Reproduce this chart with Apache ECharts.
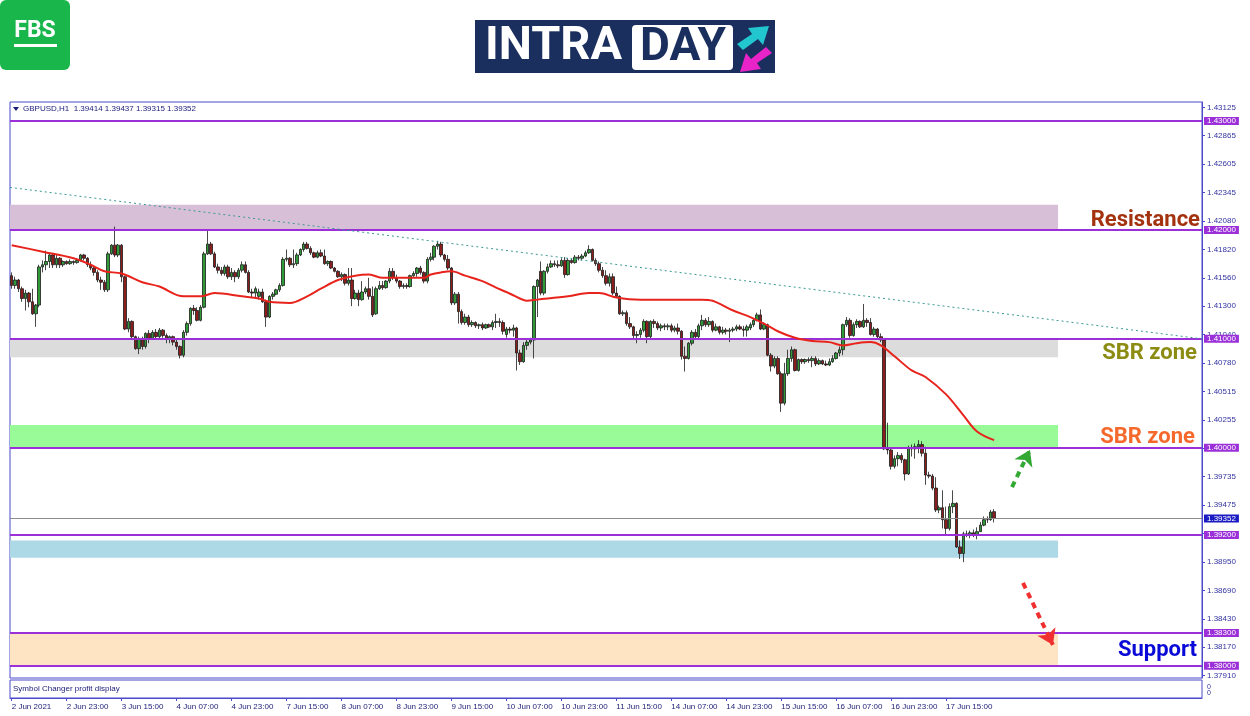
<!DOCTYPE html>
<html><head><meta charset="utf-8">
<script src="https://cdn.jsdelivr.net/npm/echarts@6/dist/echarts.min.js"></script>
<style>html,body{margin:0;padding:0;background:#fff}#c{width:1250px;height:716px}</style>
</head><body><div id="c"></div>
<script>
// ---------------- DATA ----------------
const headerText = 'GBPUSD,H1  1.39414 1.39437 1.39315 1.39352';
const xTickLabels = ['2 Jun 2021','2 Jun 23:00','3 Jun 15:00','4 Jun 07:00','4 Jun 23:00','7 Jun 15:00','8 Jun 07:00','8 Jun 23:00','9 Jun 15:00','10 Jun 07:00','10 Jun 23:00','11 Jun 15:00','14 Jun 07:00','14 Jun 23:00','15 Jun 15:00','16 Jun 07:00','16 Jun 23:00','17 Jun 15:00'];
const priceTicks = [1.37910,1.38170,1.38430,1.38690,1.38950,1.39215,1.39475,1.39735,1.39995,1.40255,1.40515,1.40780,1.41040,1.41300,1.41560,1.41820,1.42080,1.42345,1.42605,1.42865,1.43125];
// [open, close, low, high]
const ohlc = [
[1.4158,1.4149,1.4146,1.4161],[1.4149,1.4154,1.4146,1.4157],[1.4154,1.4146,1.4143,1.4155],[1.4146,1.4137,1.4134,1.4148],
[1.4137,1.4142,1.4126,1.4145],[1.4142,1.4134,1.4129,1.4143],[1.4134,1.4123,1.4122,1.4146],[1.4123,1.4131,1.4111,1.4132],
[1.4131,1.4166,1.4129,1.4168],[1.4166,1.4168,1.4161,1.4172],[1.4168,1.4171,1.4163,1.4181],[1.4171,1.4177,1.4165,1.4178],
[1.4177,1.4168,1.4165,1.4178],[1.4168,1.4174,1.4165,1.4177],[1.4174,1.4168,1.4165,1.4175],[1.4168,1.4171,1.4166,1.4172],
[1.4171,1.4169,1.4168,1.4172],[1.4169,1.4171,1.4168,1.4173],[1.4171,1.4170,1.4168,1.4172],[1.4170,1.4172,1.4169,1.4174],
[1.4172,1.4177,1.4171,1.4178],[1.4177,1.4174,1.4172,1.4178],[1.4174,1.4168,1.4166,1.4175],[1.4168,1.4165,1.4163,1.4171],
[1.4165,1.4161,1.4158,1.4166],[1.4161,1.4154,1.4152,1.4163],[1.4154,1.4152,1.4145,1.4157],[1.4152,1.4145,1.4143,1.4154],
[1.4145,1.4178,1.4143,1.4180],[1.4178,1.4186,1.4177,1.4187],[1.4186,1.4177,1.4175,1.4203],[1.4177,1.4186,1.4175,1.4187],
[1.4186,1.4157,1.4152,1.4187],[1.4157,1.4109,1.4108,1.4158],[1.4109,1.4116,1.4106,1.4119],[1.4116,1.4102,1.4099,1.4117],
[1.4102,1.4091,1.4090,1.4103],[1.4091,1.4100,1.4086,1.4102],[1.4100,1.4093,1.4090,1.4102],[1.4093,1.4105,1.4091,1.4106],
[1.4105,1.4100,1.4096,1.4108],[1.4100,1.4106,1.4099,1.4108],[1.4106,1.4102,1.4100,1.4109],[1.4102,1.4108,1.4100,1.4110],
[1.4108,1.4103,1.4101,1.4109],[1.4103,1.4100,1.4096,1.4105],[1.4100,1.4102,1.4096,1.4103],[1.4102,1.4097,1.4094,1.4103],
[1.4097,1.4093,1.4090,1.4099],[1.4093,1.4085,1.4082,1.4094],[1.4085,1.4106,1.4083,1.4108],[1.4106,1.4114,1.4103,1.4116],
[1.4114,1.4128,1.4112,1.4129],[1.4128,1.4126,1.4122,1.4131],[1.4126,1.4117,1.4116,1.4129],[1.4117,1.4129,1.4116,1.4131],
[1.4129,1.4178,1.4128,1.4180],[1.4178,1.4187,1.4177,1.4199],[1.4187,1.4178,1.4177,1.4189],[1.4178,1.4166,1.4165,1.4180],
[1.4166,1.4163,1.4160,1.4169],[1.4163,1.4160,1.4158,1.4166],[1.4160,1.4166,1.4158,1.4168],[1.4166,1.4157,1.4155,1.4168],
[1.4157,1.4161,1.4154,1.4165],[1.4161,1.4157,1.4152,1.4163],[1.4157,1.4163,1.4155,1.4165],[1.4163,1.4168,1.4161,1.4171],
[1.4168,1.4161,1.4160,1.4171],[1.4161,1.4143,1.4142,1.4163],[1.4143,1.4142,1.4138,1.4146],[1.4142,1.4146,1.4138,1.4148],
[1.4139,1.4143,1.4136,1.4146],[1.4143,1.4134,1.4133,1.4146],[1.4134,1.4120,1.4111,1.4136],[1.4120,1.4139,1.4119,1.4140],
[1.4139,1.4141,1.4136,1.4143],[1.4141,1.4145,1.4140,1.4146],[1.4145,1.4149,1.4143,1.4151],[1.4149,1.4173,1.4148,1.4175],
[1.4173,1.4174,1.4171,1.4182],[1.4174,1.4168,1.4166,1.4175],[1.4168,1.4169,1.4165,1.4182],[1.4169,1.4177,1.4167,1.4179],
[1.4177,1.4182,1.4176,1.4183],[1.4182,1.4187,1.4180,1.4189],[1.4187,1.4183,1.4182,1.4189],[1.4183,1.4179,1.4177,1.4185],
[1.4179,1.4175,1.4174,1.4180],[1.4175,1.4179,1.4174,1.4181],[1.4179,1.4176,1.4175,1.4182],[1.4176,1.4169,1.4168,1.4182],
[1.4169,1.4171,1.4167,1.4172],[1.4171,1.4165,1.4164,1.4172],[1.4165,1.4162,1.4161,1.4166],[1.4162,1.4157,1.4156,1.4163],
[1.4157,1.4159,1.4153,1.4161],[1.4159,1.4151,1.4149,1.4160],[1.4151,1.4154,1.4149,1.4165],[1.4154,1.4137,1.4130,1.4165],
[1.4137,1.4142,1.4136,1.4145],[1.4142,1.4136,1.4130,1.4145],[1.4136,1.4143,1.4135,1.4153],[1.4143,1.4146,1.4141,1.4148],
[1.4146,1.4139,1.4136,1.4156],[1.4139,1.4122,1.4120,1.4148],[1.4123,1.4146,1.4122,1.4148],[1.4146,1.4149,1.4145,1.4153],
[1.4149,1.4147,1.4145,1.4153],[1.4147,1.4153,1.4146,1.4154],[1.4153,1.4162,1.4151,1.4165],[1.4162,1.4156,1.4154,1.4165],
[1.4156,1.4153,1.4151,1.4159],[1.4153,1.4148,1.4146,1.4154],[1.4148,1.4149,1.4146,1.4151],[1.4149,1.4148,1.4146,1.4151],
[1.4148,1.4158,1.4147,1.4159],[1.4158,1.4160,1.4157,1.4162],[1.4160,1.4165,1.4157,1.4166],[1.4165,1.4161,1.4159,1.4167],
[1.4161,1.4153,1.4151,1.4162],[1.4153,1.4173,1.4151,1.4175],[1.4173,1.4175,1.4171,1.4179],[1.4175,1.4185,1.4172,1.4186],
[1.4185,1.4187,1.4182,1.4190],[1.4187,1.4177,1.4175,1.4189],[1.4177,1.4173,1.4171,1.4178],[1.4173,1.4165,1.4163,1.4177],
[1.4165,1.4133,1.4131,1.4166],[1.4133,1.4141,1.4131,1.4143],[1.4141,1.4125,1.4114,1.4143],[1.4125,1.4115,1.4113,1.4127],
[1.4115,1.4120,1.4113,1.4123],[1.4120,1.4113,1.4111,1.4122],[1.4113,1.4115,1.4111,1.4117],[1.4115,1.4112,1.4110,1.4116],
[1.4112,1.4113,1.4109,1.4114],[1.4113,1.4110,1.4108,1.4115],[1.4110,1.4113,1.4109,1.4114],[1.4113,1.4111,1.4110,1.4114],
[1.4111,1.4115,1.4108,1.4117],[1.4115,1.4116,1.4110,1.4123],[1.4116,1.4115,1.4111,1.4119],[1.4115,1.4107,1.4104,1.4117],
[1.4104,1.4109,1.4101,1.4111],[1.4109,1.4108,1.4105,1.4111],[1.4108,1.4110,1.4102,1.4113],[1.4110,1.4087,1.4071,1.4111],
[1.4087,1.4079,1.4076,1.4090],[1.4079,1.4094,1.4078,1.4097],[1.4094,1.4097,1.4090,1.4100],[1.4097,1.4099,1.4095,1.4101],
[1.4099,1.4148,1.4082,1.4149],[1.4148,1.4154,1.4120,1.4155],[1.4162,1.4142,1.4140,1.4171],[1.4142,1.4162,1.4140,1.4163],
[1.4162,1.4166,1.4160,1.4169],[1.4166,1.4169,1.4165,1.4172],[1.4169,1.4168,1.4166,1.4172],[1.4168,1.4167,1.4165,1.4172],
[1.4167,1.4172,1.4166,1.4174],[1.4172,1.4159,1.4156,1.4175],[1.4159,1.4172,1.4158,1.4174],[1.4172,1.4170,1.4169,1.4174],
[1.4170,1.4175,1.4169,1.4177],[1.4175,1.4174,1.4172,1.4177],[1.4174,1.4176,1.4172,1.4178],[1.4176,1.4179,1.4175,1.4181],
[1.4179,1.4182,1.4178,1.4186],[1.4182,1.4172,1.4171,1.4183],[1.4172,1.4169,1.4167,1.4174],[1.4169,1.4163,1.4161,1.4171],
[1.4163,1.4158,1.4156,1.4166],[1.4158,1.4151,1.4149,1.4163],[1.4151,1.4157,1.4148,1.4160],[1.4157,1.4142,1.4140,1.4160],
[1.4142,1.4139,1.4138,1.4148],[1.4139,1.4123,1.4122,1.4140],[1.4123,1.4124,1.4121,1.4126],[1.4124,1.4114,1.4112,1.4126],
[1.4114,1.4111,1.4109,1.4120],[1.4111,1.4103,1.4100,1.4112],[1.4103,1.4104,1.4096,1.4107],[1.4104,1.4108,1.4101,1.4110],
[1.4108,1.4116,1.4106,1.4118],[1.4116,1.4102,1.4096,1.4117],[1.4102,1.4116,1.4100,1.4117],[1.4116,1.4114,1.4110,1.4118],
[1.4114,1.4110,1.4108,1.4116],[1.4110,1.4112,1.4107,1.4114],[1.4112,1.4111,1.4108,1.4114],[1.4111,1.4112,1.4108,1.4114],
[1.4112,1.4108,1.4106,1.4114],[1.4108,1.4110,1.4106,1.4112],[1.4110,1.4107,1.4104,1.4114],[1.4107,1.4084,1.4081,1.4108],
[1.4084,1.4082,1.4070,1.4093],[1.4082,1.4096,1.4081,1.4097],[1.4096,1.4106,1.4094,1.4108],[1.4106,1.4102,1.4100,1.4109],
[1.4102,1.4112,1.4100,1.4114],[1.4112,1.4117,1.4108,1.4122],[1.4117,1.4113,1.4111,1.4119],[1.4113,1.4116,1.4111,1.4120],
[1.4116,1.4108,1.4106,1.4117],[1.4108,1.4111,1.4107,1.4114],[1.4111,1.4106,1.4104,1.4112],[1.4106,1.4108,1.4104,1.4111],
[1.4108,1.4107,1.4104,1.4110],[1.4107,1.4108,1.4097,1.4110],[1.4108,1.4109,1.4106,1.4111],[1.4109,1.4111,1.4107,1.4113],
[1.4111,1.4109,1.4108,1.4113],[1.4109,1.4108,1.4102,1.4112],[1.4108,1.4111,1.4102,1.4113],[1.4110,1.4113,1.4108,1.4115],
[1.4113,1.4117,1.4111,1.4119],[1.4117,1.4122,1.4116,1.4124],[1.4122,1.4109,1.4108,1.4127],[1.4109,1.4113,1.4108,1.4115],
[1.4113,1.4085,1.4084,1.4114],[1.4085,1.4075,1.4070,1.4087],[1.4075,1.4082,1.4073,1.4084],[1.4082,1.4068,1.4067,1.4084],
[1.4068,1.4041,1.4033,1.4070],[1.4041,1.4068,1.4039,1.4078],[1.4068,1.4082,1.4066,1.4090],[1.4082,1.4090,1.4079,1.4093],
[1.4090,1.4071,1.4070,1.4091],[1.4071,1.4081,1.4070,1.4082],[1.4081,1.4079,1.4077,1.4082],[1.4079,1.4081,1.4077,1.4082],
[1.4081,1.4080,1.4078,1.4083],[1.4080,1.4082,1.4074,1.4084],[1.4082,1.4077,1.4075,1.4084],[1.4077,1.4080,1.4076,1.4082],
[1.4080,1.4077,1.4076,1.4081],[1.4077,1.4076,1.4075,1.4080],[1.4076,1.4079,1.4075,1.4082],[1.4079,1.4082,1.4078,1.4085],
[1.4082,1.4087,1.4081,1.4088],[1.4087,1.4090,1.4084,1.4093],[1.4090,1.4113,1.4085,1.4114],[1.4113,1.4117,1.4111,1.4120],
[1.4117,1.4103,1.4101,1.4119],[1.4103,1.4113,1.4102,1.4115],[1.4113,1.4116,1.4110,1.4118],[1.4116,1.4111,1.4110,1.4117],
[1.4111,1.4117,1.4110,1.4132],[1.4117,1.4115,1.4111,1.4119],[1.4115,1.4104,1.4103,1.4119],[1.4104,1.4109,1.4102,1.4111],
[1.4109,1.4102,1.4099,1.4110],[1.4102,1.4099,1.4097,1.4105],[1.4099,1.3999,1.3998,1.4100],[1.3999,1.3998,1.3994,1.4023],
[1.3998,1.3983,1.3980,1.3999],[1.3983,1.3990,1.3981,1.3993],[1.3990,1.3993,1.3983,1.3996],[1.3993,1.3989,1.3986,1.3995],
[1.3989,1.3976,1.3970,1.3990],[1.3976,1.4000,1.3975,1.4002],[1.4000,1.3999,1.3992,1.4003],[1.3999,1.4001,1.3990,1.4004],
[1.4001,1.4003,1.3995,1.4007],[1.4003,1.3995,1.3992,1.4006],[1.3995,1.3975,1.3966,1.4001],[1.3975,1.3974,1.3972,1.3978],
[1.3974,1.3963,1.3961,1.3976],[1.3963,1.3943,1.3941,1.3973],[1.3943,1.3945,1.3940,1.3947],[1.3945,1.3934,1.3926,1.3961],
[1.3934,1.3926,1.3920,1.3946],[1.3926,1.3946,1.3924,1.3949],[1.3946,1.3949,1.3940,1.3961],[1.3949,1.3909,1.3908,1.3950],
[1.3909,1.3903,1.3898,1.3915],[1.3903,1.3921,1.3895,1.3923],[1.3921,1.3920,1.3918,1.3924],[1.3920,1.3922,1.3917,1.3924],
[1.3922,1.3920,1.3918,1.3925],[1.3920,1.3923,1.3916,1.3927],[1.3923,1.3929,1.3923,1.3932],[1.3929,1.3934,1.3928,1.3937],
[1.3934,1.3934,1.3931,1.3937],[1.3934,1.3941,1.3933,1.3943],[1.39414,1.39352,1.39315,1.39437]
];
// moving average [bar index, price]
const maLine = [[0,1.4186],[9,1.4180],[18,1.4174],[23,1.4168],[27,1.4162],[32,1.4160],[38,1.4152],[43,1.4148],[50,1.4139],[55,1.4139],[59,1.4142],[67,1.4139],[72,1.4137],[75,1.4134],[81,1.4133],[86,1.4139],[90,1.4146],[95,1.4154],[100,1.4158],[104,1.4159],[108,1.4156],[115,1.4156],[120,1.4156],[122,1.4159],[125,1.4161],[128,1.4162],[132,1.4158],[137,1.4153],[141,1.4147],[144,1.4143],[146,1.4140],[150,1.4135],[153,1.4136],[162,1.4139],[168,1.4142],[171,1.4142],[176,1.4138],[183,1.4136],[195,1.4136],[201,1.4136],[204,1.4135],[210,1.4126],[215,1.4120],[219,1.4114],[223,1.4107],[228,1.4101],[233,1.4098],[238,1.4097],[242,1.4094],[246,1.4096],[250,1.4097],[253,1.4094],[257,1.4084],[262,1.4071],[266,1.4065],[272,1.4049],[277,1.4030],[281,1.4015],[286,1.4007]];
const trendLine = [[-0.5,1.4239],[346.5,1.4100]];
const levels = [1.43000,1.42000,1.41000,1.40000,1.39200,1.38300,1.38000];
const lastPrice = 1.39352;
const zones = [[1.4200,1.4223],[1.4083,1.4100],[1.4000,1.4021],[1.3899,1.3915],[1.3800,1.3830]];
const zoneEndBar = 304.6;
const upArrow = [[291.2,1.3964],[296.4,1.3998]];
const downArrow = [[294.4,1.3876],[303.1,1.3819]];
const annotations = ['Resistance','SBR zone','SBR zone','Support'];
const totalSlots = 347;

// ---------------- CHART ----------------
const categories = Array.from({length: totalSlots}, (_, i) => String(i));
const zoneColors = ['#d8bfd8','#dcdcdc','#98fb98','#add8e6','#ffe4c4'];
const frame = '#4a4acb';
const purple = '#9b30d9';
const lblFont = 'Liberation Sans';
const showTick = (idx) => idx % 16 === 0 && idx / 16 < xTickLabels.length;

const chart = echarts.init(document.getElementById('c'), null, {renderer: 'canvas'});
chart.setOption({
  animation: false,
  backgroundColor: '#ffffff',
  grid: [
    {left: 10, top: 102, width: 1192, height: 576, show: true, borderColor: frame, borderWidth: 1, backgroundColor: 'transparent'},
    {left: 10, top: 680, width: 1192, height: 18, show: true, borderColor: frame, borderWidth: 1, backgroundColor: 'transparent'}
  ],
  xAxis: [
    {type: 'category', gridIndex: 0, data: categories, boundaryGap: true, show: false},
    {type: 'value', gridIndex: 0, min: -0.5, max: totalSlots - 0.5, show: false},
    {type: 'category', gridIndex: 1, data: categories, boundaryGap: true, position: 'bottom',
      axisLine: {show: true, lineStyle: {color: frame, width: 1}},
      axisTick: {show: true, alignWithLabel: true, interval: showTick, length: 3, lineStyle: {color: frame}},
      axisLabel: {show: true, interval: showTick, align: 'left', margin: 5, fontSize: 8, fontFamily: lblFont, color: '#22227a',
        formatter: (v, idx) => (idx % 16 === 0 && xTickLabels[idx / 16]) ? xTickLabels[idx / 16] : ''},
      splitLine: {show: false}}
  ],
  yAxis: [
    {type: 'value', gridIndex: 0, position: 'right', min: 1.37887, max: 1.43174,
      axisLine: {show: true, onZero: false, lineStyle: {color: frame}},
      axisTick: {show: true, inside: false, length: 3, customValues: priceTicks, lineStyle: {color: frame}},
      axisLabel: {show: true, inside: false, customValues: priceTicks, margin: 5, fontSize: 8, fontFamily: lblFont, color: '#3333a0',
        formatter: v => v.toFixed(5)},
      splitLine: {show: false}},
    {type: 'value', gridIndex: 1, min: 0, max: 1, show: false}
  ],
  series: [
    {name: 'zones', type: 'line', xAxisIndex: 1, yAxisIndex: 0, data: [], z: 1, silent: true,
      markArea: {silent: true, data: zones.map((zn, k) => [
        {coord: [-0.5, zn[1]], itemStyle: {color: zoneColors[k], opacity: 1}},
        {coord: [zoneEndBar, zn[0]]}
      ])}},
    {name: 'GBPUSD', type: 'candlestick', xAxisIndex: 0, yAxisIndex: 0, data: ohlc, z: 3,
      barWidth: 3,
      itemStyle: {color: '#2f9a37', color0: '#8c1d1d', borderColor: '#1c1c1c', borderColor0: '#1c1c1c', borderWidth: 0.8}},
    {name: 'levels', type: 'line', xAxisIndex: 1, yAxisIndex: 0, data: [], z: 4, silent: true,
      markLine: {silent: true, precision: 5, symbol: ['none', 'none'],
        lineStyle: {color: purple, width: 2, type: 'solid'},
        label: {show: true, position: 'end', distance: 2, formatter: p => Number(p.value).toFixed(5),
          color: '#ffffff', backgroundColor: purple, fontSize: 8, fontFamily: lblFont, padding: [0, 3], lineHeight: 8},
        data: levels.map(v => ({yAxis: v})).concat([{yAxis: lastPrice, lineStyle: {color: '#8c8c8c', width: 1, type: 'solid'},
          label: {backgroundColor: '#1b1bc4', color: '#ffffff'}}])}},
    {name: 'MA', type: 'line', xAxisIndex: 1, yAxisIndex: 0, data: maLine, z: 5, smooth: 0.35,
      showSymbol: false, lineStyle: {color: '#e8231c', width: 2}},
    {name: 'trend', type: 'line', xAxisIndex: 1, yAxisIndex: 0, data: trendLine, z: 5,
      showSymbol: false, lineStyle: {color: '#3a9a96', width: 1, type: [2, 3]}},
    {name: 'arrows', type: 'line', xAxisIndex: 1, yAxisIndex: 0, data: [], z: 6, silent: true,
      markLine: {silent: true, precision: 5, symbol: ['none', 'arrow'], symbolSize: 15, label: {show: false},
        data: [
          [{coord: upArrow[0], lineStyle: {color: '#33a833', width: 4, type: [6, 5]}, itemStyle: {color: '#33a833'}}, {coord: upArrow[1], itemStyle: {color: '#33a833'}}],
          [{coord: downArrow[0], lineStyle: {color: '#f03030', width: 4, type: [6, 5]}, itemStyle: {color: '#f03030'}}, {coord: downArrow[1], itemStyle: {color: '#f03030'}}]
        ]}}
  ],
  graphic: [
    // FBS logo
    {type: 'rect', shape: {x: 0, y: 0, width: 70, height: 70, r: 6}, style: {fill: '#19b64b'}, z: 10},
    {type: 'text', x: 35, y: 31, style: {text: 'FBS', fill: '#ffffff', font: 'bold 23px Roboto', textAlign: 'center', textVerticalAlign: 'middle', align: 'center', verticalAlign: 'middle'}, z: 11},
    {type: 'rect', shape: {x: 14, y: 44, width: 43, height: 3}, style: {fill: '#ffffff'}, z: 11},
    // INTRADAY banner
    {type: 'rect', shape: {x: 475, y: 20, width: 300, height: 53}, style: {fill: '#1b2f5e'}, z: 10},
    {type: 'text', x: 485, y: 47, style: {text: 'INTRA', fill: '#ffffff', font: 'bold 47px Roboto', textAlign: 'left', textVerticalAlign: 'middle', align: 'left', verticalAlign: 'middle'}, z: 11},
    {type: 'rect', shape: {x: 632, y: 25, width: 101, height: 45, r: 4}, style: {fill: '#ffffff'}, z: 11},
    {type: 'text', x: 683, y: 48, style: {text: 'DAY', fill: '#1b2f5e', font: 'bold 46px Roboto', textAlign: 'center', textVerticalAlign: 'middle', align: 'center', verticalAlign: 'middle'}, z: 12},
    {type: 'polygon', shape: {points: [[737,44],[752,34],[748,28],[769,26],[763,45],[758,39],[743,50]]}, style: {fill: '#22c6cf'}, z: 11},
    {type: 'polygon', shape: {points: [[772,53],[757,63],[761,69],[740,72],[746,53],[751,59],[766,47]]}, style: {fill: '#e824c8'}, z: 11},
    // header inside chart
    {type: 'polygon', shape: {points: [[13,107],[19,107],[16,111]]}, style: {fill: '#1b1b7a'}, z: 10},
    {type: 'text', x: 23, y: 109, style: {text: headerText, fill: '#1b1b7a', font: '8px "Liberation Sans"', textAlign: 'left', textVerticalAlign: 'middle', align: 'left', verticalAlign: 'middle'}, z: 10},
    {type: 'text', x: 13, y: 689, style: {text: 'Symbol Changer profit display', fill: '#1b1b7a', font: '8px "Liberation Sans"', textAlign: 'left', textVerticalAlign: 'middle', align: 'left', verticalAlign: 'middle'}, z: 10},
    {type: 'text', x: 1207, y: 687, style: {text: '0', fill: '#3333a0', font: '7px "Liberation Sans"', textAlign: 'left', textVerticalAlign: 'middle', align: 'left', verticalAlign: 'middle'}, z: 10},
    {type: 'text', x: 1207, y: 693, style: {text: '0', fill: '#3333a0', font: '7px "Liberation Sans"', textAlign: 'left', textVerticalAlign: 'middle', align: 'left', verticalAlign: 'middle'}, z: 10},
    // annotations
    {type: 'text', x: 1200, y: 220, style: {text: annotations[0], fill: '#a3320f', font: 'bold 22px Roboto', textAlign: 'right', textVerticalAlign: 'middle', align: 'right', verticalAlign: 'middle'}, z: 10},
    {type: 'text', x: 1197, y: 353, style: {text: annotations[1], fill: '#8c8c12', font: 'bold 22px Roboto', textAlign: 'right', textVerticalAlign: 'middle', align: 'right', verticalAlign: 'middle'}, z: 10},
    {type: 'text', x: 1195, y: 437, style: {text: annotations[2], fill: '#f56a2c', font: 'bold 22px Roboto', textAlign: 'right', textVerticalAlign: 'middle', align: 'right', verticalAlign: 'middle'}, z: 10},
    {type: 'text', x: 1197, y: 650, style: {text: annotations[3], fill: '#0a0ad8', font: 'bold 22px Roboto', textAlign: 'right', textVerticalAlign: 'middle', align: 'right', verticalAlign: 'middle'}, z: 10}
  ]
});
</script>
</body></html>
